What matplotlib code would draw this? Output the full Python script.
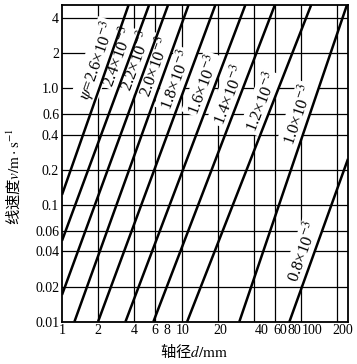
import numpy as np
import matplotlib.pyplot as plt
from matplotlib.transforms import offset_copy

plt.rcParams['font.family'] = ['Liberation Serif', 'DejaVu Serif']
plt.rcParams['mathtext.fontset'] = 'stix'

# axis ticks and grid
d_ticks = [1, 2, 4, 6, 8, 10, 20, 40, 60, 80, 100, 200]
d_tick_labels = ['1', '2', '4', '6', '8', '10', '20', '40', '60', '80', '100', '200']
d_grid = [2, 4, 6, 10, 20, 40, 60, 100, 200]
v_ticks = [0.01, 0.02, 0.04, 0.06, 0.1, 0.2, 0.4, 0.6, 1.0, 2, 4]
v_tick_labels = ['0.01', '0.02', '0.04', '0.06', '0.1', '0.2', '0.4', '0.6', '1.0', '2', '4']

# psi lines: start / end points (d in mm, v in m/s)
psi = ['2.6', '2.4', '2.2', '2.0', '1.8', '1.6', '1.4', '1.2', '1.0', '0.8']
d_start = [1, 1, 1, 1.27, 2.0, 3.39, 5.8, 11.1, 30.3, 79.4]
v_start = [0.1226, 0.0495, 0.017, 0.01, 0.01, 0.01, 0.01, 0.01, 0.01, 0.01]
d_end = [3.6, 5.34, 7.69, 11.4, 19.1, 34.0, 60.0, 120.6, 240.0, 245.0]
v_end = [5.2, 5.2, 5.2, 5.2, 5.2, 5.2, 5.2, 5.2, 5.2, 0.249]
# speed at which each label sits along its line
v_label = [1.74, 1.85, 1.74, 1.53, 1.19, 1.08, 0.885, 0.76, 0.6, 0.04]

# sideways nudge (points) of crowded x tick labels, as in the original print
x_nudge = [0, 0, 0, 0, -2, 1, 1.5, 5.5, 4, 3, 7.5, 4]

fig = plt.figure(figsize=(3.57, 3.64), dpi=100)
ax = fig.add_axes([62 / 357, 1 - 321.7 / 364, 286 / 357, 316.7 / 364])
ax.set_xscale('log')
ax.set_yscale('log')
ax.set_xlim(1, 245)
ax.set_ylim(0.01, 5.2)

for g in d_grid:
    ax.axvline(g, color='black', lw=0.9, zorder=1)
for g in v_ticks:
    ax.axhline(g, color='black', lw=0.9, zorder=1)

ax.set_xticks(d_ticks, [])
ax.set_yticks(v_ticks, v_tick_labels)
ax.minorticks_off()
ax.tick_params(length=0, labelsize=10, pad=2, colors='black')
for s in ax.spines.values():
    s.set_linewidth(1.3)

# x tick labels drawn by hand so the crowded ones can be shifted
xt = ax.get_xaxis_transform()
for d, lab, nx in zip(d_ticks, d_tick_labels, x_nudge):
    tr = offset_copy(xt, fig=fig, x=nx, y=-2, units='points')
    ax.text(d, 0, lab, transform=tr, ha='center', va='top', fontsize=10)

for i in range(len(psi)):
    ax.plot([d_start[i], d_end[i]], [v_start[i], v_end[i]], color='black',
            lw=1.8, zorder=4, solid_capstyle='butt')
    # label position on the line
    t = (np.log(v_label[i]) - np.log(v_start[i])) / (np.log(v_end[i]) - np.log(v_start[i]))
    d_lab = d_start[i] * (d_end[i] / d_start[i]) ** t
    p0 = ax.transData.transform((d_start[i], v_start[i]))
    p1 = ax.transData.transform((d_end[i], v_end[i]))
    ang = np.degrees(np.arctan2(p1[1] - p0[1], p1[0] - p0[0]))
    txt = psi[i] + '×10$^{-3}$'
    if i == 0:
        txt = r'$\psi$=' + txt
    ax.annotate(txt, (d_lab, v_label[i]), xytext=(-8.5, 0), textcoords='offset points',
                ha='center', va='center', rotation=ang, rotation_mode='anchor',
                fontsize=12, zorder=3,
                bbox=dict(boxstyle='square,pad=0.1', fc='white', ec='none'))

fig.text(194 / 357, 1 - 351 / 364, '轴径$d/\\mathrm{mm}$', ha='center', va='center',
         fontsize=11, family=['Noto Sans CJK SC', 'DejaVu Sans'])
fig.text(14 / 357, 1 - 176 / 364, '线速度$v/\\mathrm{m\\cdot s^{-1}}$', ha='center', va='center',
         rotation=90, fontsize=11, family=['Noto Sans CJK SC', 'DejaVu Sans'])

fig.savefig('out.png', dpi=100)
